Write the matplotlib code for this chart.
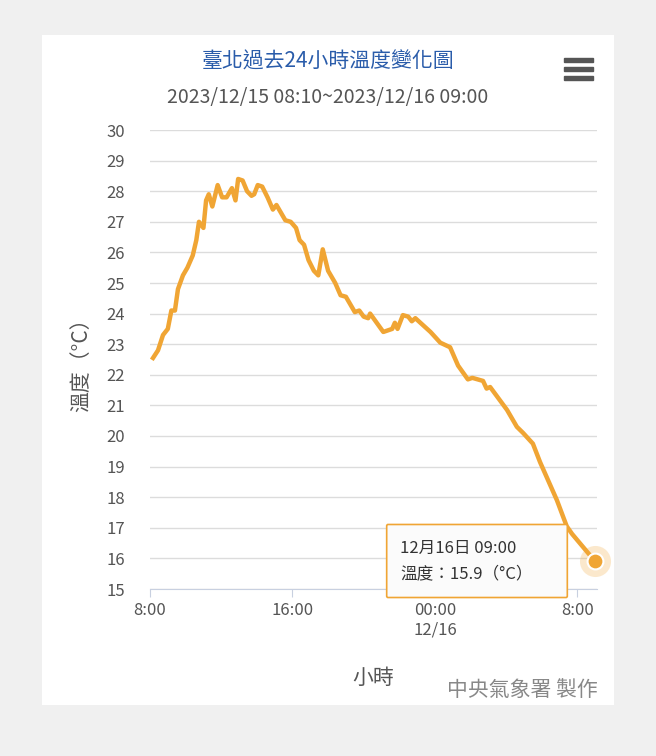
import matplotlib
matplotlib.use("Agg")
import matplotlib.pyplot as plt
from matplotlib.patches import FancyBboxPatch, Rectangle

plt.rcParams['font.family'] = ['Noto Sans CJK TC', 'DejaVu Sans']

# hours since 2023/12/15 08:00, temperature in °C
hours = [0.17, 0.45, 0.73, 1.0, 1.2, 1.4, 1.57, 1.85, 2.1, 2.4, 2.6, 2.75, 3.0, 3.15,
         3.3, 3.5, 3.8, 4.05, 4.3, 4.6, 4.8, 4.95, 5.2, 5.45, 5.7, 5.85, 6.05, 6.3,
         6.6, 6.9, 7.1, 7.35, 7.6, 7.9, 8.2, 8.4, 8.65, 8.9, 9.2, 9.45, 9.7, 10.0,
         10.4, 10.7, 11.0, 11.25, 11.5, 11.75, 12.0, 12.25, 12.36, 13.1, 13.6, 13.75,
         13.9, 14.2, 14.5, 14.7, 14.9, 15.75, 16.3, 16.85, 17.3, 17.85, 18.1, 18.7,
         18.9, 19.1, 20.05, 20.6, 20.95, 21.5, 21.9, 22.85, 23.4, 23.7, 25.0]
temps = [22.55, 22.8, 23.3, 23.5, 24.1, 24.1, 24.8, 25.25, 25.5, 25.9, 26.4, 27.0, 26.8, 27.7,
         27.9, 27.5, 28.2, 27.8, 27.8, 28.1, 27.7, 28.4, 28.35, 28.0, 27.85, 27.9, 28.2, 28.15,
         27.8, 27.4, 27.55, 27.3, 27.05, 27.0, 26.8, 26.4, 26.25, 25.75, 25.4, 25.25, 26.1, 25.4,
         25.0, 24.6, 24.55, 24.3, 24.05, 24.1, 23.9, 23.85, 24.0, 23.4, 23.5, 23.7,
         23.5, 23.95, 23.9, 23.75, 23.85, 23.4, 23.05, 22.9, 22.3, 21.85, 21.9, 21.8,
         21.55, 21.6, 20.85, 20.3, 20.1, 19.75, 19.15, 17.9, 17.05, 16.8, 15.9]
tick_pos = [0, 8, 16, 24]
tick_labels = ["8:00", "16:00", "00:00\n12/16", "8:00"]

W, H = 656, 756
fig = plt.figure(figsize=(W / 100, H / 100), dpi=100)
fig.patch.set_facecolor('#f0f0f0')
card = Rectangle((42 / W, 1 - 705 / H), 572 / W, 670 / H, transform=fig.transFigure,
                 facecolor='white', edgecolor='none', zorder=-1)
fig.patches.append(card)

ax = fig.add_axes([150 / W, 1 - 589 / H, 447 / W, 459 / H])
ax.set_facecolor('white')
orange = '#f0a534'
ax.plot(hours, temps, color=orange, lw=3.2, solid_joinstyle='round', zorder=3)
ax.scatter([hours[-1]], [temps[-1]], s=500, color=orange, alpha=0.25, zorder=4, lw=0, clip_on=False)
ax.scatter([hours[-1]], [temps[-1]], s=130, color=orange, edgecolor='white', lw=1.5, zorder=5, clip_on=False)

ax.set_xlim(0, 25.1)
ax.set_ylim(15, 30)
ax.set_yticks(range(15, 31))
ax.set_xticks(tick_pos)
ax.set_xticklabels(tick_labels)
ax.grid(axis='y', color='#dcdcdc', lw=1)
ax.tick_params(axis='y', length=0, labelsize=12, colors='#555555', pad=18)
ax.tick_params(axis='x', length=6, color='#c8d0e0', labelsize=12, colors='#555555')
for s in ['top', 'right', 'left']:
    ax.spines[s].set_visible(False)
ax.spines['bottom'].set_color('#c8d0e0')
ax.set_axisbelow(True)
ax.set_ylabel('溫度（°C）', fontsize=15, color='#555555', labelpad=10)
ax.set_xlabel('小時', fontsize=15, color='#555555', labelpad=20)

fig.text(328 / W, 1 - 62 / H, '臺北過去24小時溫度變化圖', ha='center', va='center',
         fontsize=15, color='#2a5caa')
fig.text(328 / W, 1 - 97 / H, '2023/12/15 08:10~2023/12/16 09:00', ha='center', va='center',
         fontsize=14, color='#555555')
for dy in (60, 69, 78):
    fig.patches.append(Rectangle((564 / W, 1 - (dy + 2) / H), 29 / W, 4 / H,
                                 transform=fig.transFigure, color='#555555'))
fig.text(598 / W, 1 - 690 / H, '中央氣象署 製作', ha='right', va='center',
         fontsize=15, color='#888888')

# tooltip
tip = FancyBboxPatch((388 / W, 1 - 596 / H), 178 / W, 70 / H, boxstyle='round,pad=0.002',
                     transform=fig.transFigure, facecolor='#fbfbfb', edgecolor=orange, lw=1.2,
                     zorder=6)
fig.patches.append(tip)
fig.text(400 / W, 1 - 548 / H, '12月16日 09:00', fontsize=12, color='#333333', va='center', zorder=7)
fig.text(400 / W, 1 - 574 / H, '溫度：15.9（°C）', fontsize=12, color='#333333', va='center', zorder=7)

fig.savefig('out.png', dpi=100, facecolor=fig.get_facecolor())
